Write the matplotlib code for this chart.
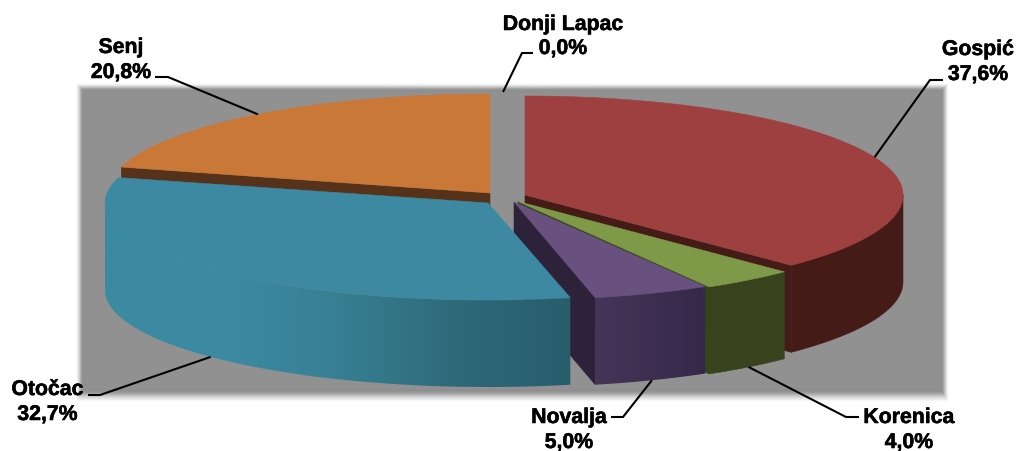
#!/usr/bin/python3

import numpy as np
import matplotlib
matplotlib.use("Agg")
import matplotlib.pyplot as plt
import matplotlib.patheffects as pe
from matplotlib.patches import Polygon, Rectangle
from matplotlib.colors import to_rgb, LinearSegmentedColormap

names = ["Gospić", "Korenica", "Novalja", "Otočac", "Senj", "Donji Lapac"]
shares = [37.6, 4.0, 5.0, 32.7, 20.8, 0.0]

top_cols = ["#9e403f", "#7e9a48", "#69517f", "#3e89a2", "#c97838", "#919191"]
side_cols = ["#451b18", "#38421d", "#2c2239", "#275c6b", "#56321a", "#919191"]

# where each exploded slice sits: centre x, centre y, radius x, radius y
geo = {
    "Gospić": (525, 195, 378, 99),
    "Korenica": (518, 201.5, 378, 99),
    "Novalja": (514, 202, 378, 98),
    "Otočac": (488, 203, 383, 97),
    "Senj": (490, 193, 382, 99),
    "Donji Lapac": (503, 192, 378, 100),
}
depth = 87

# wall colours, left to right
wall_ramps = {
    "Novalja": ["#463558", "#35294a"],
    "Otočac": ["#3d8aa2", "#3c8ba3", "#377f93", "#2e6a7a", "#285d6c"],
}

# text centre x, first baseline, second baseline, elbow start, elbow end
label_pos = {
    "Gospić": (978, 55, 80, (943, 80), (930, 80)),
    "Korenica": (909, 423, 448, (859, 417), (846, 417)),
    "Novalja": (569, 423, 448, (611, 417), (623, 417)),
    "Otočac": (47.5, 395, 420, (88, 395), (100, 395)),
    "Senj": (121, 53, 78, (155, 77), (168, 77)),
    "Donji Lapac": (563, 30, 54, (533, 53), (522, 53)),
}

fracs = np.array(shares) / sum(shares)
ends = np.cumsum(fracs) * 360
starts = ends - fracs * 360
angles = {n: (a, b) for n, a, b in zip(names, starts, ends)}

z = [1]


def next_z():
    z[0] += 1
    return z[0]


def pt(name, ang, down=0):
    cx, cy, rx, ry = geo[name]
    r = np.radians(ang)
    return cx + rx * np.sin(r), cy - ry * np.cos(r) + down


def top_face(ax, name, col):
    a, b = angles[name]
    arc = [pt(name, t) for t in np.linspace(a, b, 160)]
    apex = geo[name][:2]
    ax.add_patch(Polygon([apex] + arc, closed=True, fc=col, ec=col, lw=0.4, zorder=next_z()))


def cut_face(ax, name, ang, col):
    apex = geo[name][:2]
    p = pt(name, ang)
    q = pt(name, ang, depth)
    ax.add_patch(Polygon([apex, p, q, (apex[0], apex[1] + depth)], closed=True,
                         fc=col, ec=col, lw=0.4, zorder=next_z()))


def wall(ax, name, a, b, col):
    th = np.linspace(a, b, 120)
    upper = [pt(name, t) for t in th]
    lower = [pt(name, t, depth) for t in th[::-1]]
    if name not in wall_ramps:
        ax.add_patch(Polygon(upper + lower, closed=True, fc=col, ec=col, lw=0.4, zorder=next_z()))
        return
    outline = Polygon(upper + lower, closed=True, fc="none", ec="none", transform=ax.transData)
    ax.add_patch(outline)
    xs = [p[0] for p in upper]
    cmap = LinearSegmentedColormap.from_list(name, [to_rgb(c) for c in wall_ramps[name]])
    grad = np.linspace(0, 1, 256).reshape(1, -1)
    ys = [p[1] for p in upper + lower]
    im = ax.imshow(grad, cmap=cmap, aspect="auto", interpolation="bilinear",
                   extent=(min(xs), max(xs), max(ys), min(ys)), zorder=next_z())
    im.set_clip_path(outline)


fig = plt.figure(figsize=(10.18, 4.51), dpi=100)
ax = fig.add_axes([0, 0, 1, 1])

# soft edged grey plot area, a bit more shadow at the bottom
for d in np.linspace(6, -3, 37):
    g = np.interp(d, [-3, -1, 1, 3.5, 6], [0.57, 0.56, 0.61, 0.83, 0.99])
    ax.add_patch(Rectangle((83 - d, 90 - d), 859 + 2 * d, 301 + 2 * d + 2 * max(d, 0) / 3,
                           fc=(g, g, g), ec=(g, g, g), lw=0.2, zorder=1))

# back to front
cut_face(ax, "Senj", angles["Senj"][0], side_cols[4])
top_face(ax, "Senj", top_cols[4])

wall(ax, "Gospić", 90, angles["Gospić"][1], side_cols[0])
cut_face(ax, "Gospić", angles["Gospić"][1], side_cols[0])
top_face(ax, "Gospić", top_cols[0])

cut_face(ax, "Korenica", angles["Korenica"][1], side_cols[1])
wall(ax, "Korenica", *angles["Korenica"], side_cols[1])
top_face(ax, "Korenica", top_cols[1])

cut_face(ax, "Novalja", angles["Novalja"][1], side_cols[2])
wall(ax, "Novalja", *angles["Novalja"], side_cols[2])
top_face(ax, "Novalja", top_cols[2])

wall(ax, "Otočac", angles["Otočac"][0], 270, side_cols[3])
top_face(ax, "Otočac", top_cols[3])

# labels and leader lines
for n, s in zip(names, shares):
    mid = (angles[n][0] + angles[n][1]) / 2
    if n == "Donji Lapac":
        mid = 0
    on_wall = n in ("Korenica", "Novalja", "Otočac")
    end = pt(n, mid, depth if on_wall else 0)
    lx, y1, y2, e0, e1 = label_pos[n]
    ax.plot([e0[0], e1[0], end[0]], [e0[1], e1[1], end[1]], color="k", lw=1.5,
            solid_capstyle="butt", solid_joinstyle="miter", zorder=500)
    pct = ("%.1f%%" % s).replace(".", ",")
    for txt, y in ((n, y1), (pct, y2)):
        t = ax.text(lx, y, txt, ha="center", va="baseline", fontsize=15.3, fontweight="bold",
                    family="Liberation Sans", color="k", zorder=501)
        t.set_path_effects([pe.withStroke(linewidth=0.4, foreground="k")])

ax.set_xlim(0, 1018)
ax.set_ylim(451, 0)
ax.axis("off")

fig.savefig("out.png", dpi=100, facecolor="white")
